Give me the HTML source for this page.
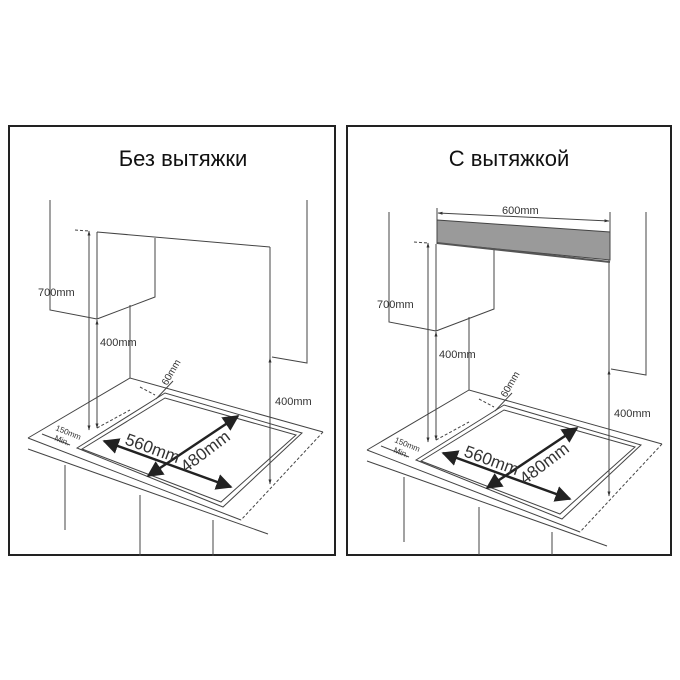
<!DOCTYPE html>
<html><head><meta charset="utf-8"><style>
html,body{margin:0;padding:0;background:#fff}
svg{display:block}
text{font-family:"Liberation Sans",Arial,sans-serif;fill:#333}
</style></head><body>
<svg width="680" height="680" viewBox="0 0 680 680" xmlns="http://www.w3.org/2000/svg">
<defs>
<clipPath id="cl"><rect x="347" y="126" width="324" height="429"/></clipPath>
<marker id="s" viewBox="0 0 10 10" refX="9" refY="5" markerWidth="5" markerHeight="5" orient="auto-start-reverse"><path d="M0,2 L10,5 L0,8z" fill="#333"/></marker>
<marker id="b" viewBox="0 0 10 10" refX="9" refY="5" markerWidth="6.5" markerHeight="6.5" orient="auto-start-reverse"><path d="M0,0 L10,5 L0,10z" fill="#222"/></marker>
<g id="scene" stroke="#444" stroke-width="1" fill="none">
 <polyline points="50,200 50,310 97,319"/>
 <polyline points="307,200 307,363 272,357"/>
 <line x1="130" y1="305" x2="130" y2="378"/>
 <polyline points="97,232 97,319 155,297 155,238"/>
 <line x1="270" y1="247" x2="270" y2="358"/>
 <polyline points="28,438 130,378 323,432"/>
 <line x1="28" y1="438" x2="241" y2="520"/>
 <line x1="28" y1="449" x2="268" y2="534"/>
 <line x1="323" y1="432" x2="241" y2="520" stroke-dasharray="3,2"/>
 <line x1="65" y1="465" x2="65" y2="530"/>
 <line x1="140" y1="495" x2="140" y2="556"/>
 <line x1="213" y1="520" x2="213" y2="556"/>
 <polygon points="77,448 165,393 302,433 223,507"/>
 <polygon points="82,449 165,398 296,435 221,502"/>
 <line x1="75" y1="230" x2="89" y2="231" stroke-dasharray="3,2"/>
 <line x1="89" y1="231" x2="89" y2="430" marker-start="url(#s)" marker-end="url(#s)"/>
 <line x1="97" y1="320" x2="97" y2="428" marker-start="url(#s)" marker-end="url(#s)"/>
 <line x1="270" y1="358" x2="270" y2="484" marker-start="url(#s)" marker-end="url(#s)"/>
 <line x1="97" y1="428" x2="130" y2="410" stroke-dasharray="3,2"/>
 <line x1="140" y1="387" x2="155" y2="395" stroke-dasharray="3,2"/>
 <line x1="156" y1="399" x2="173" y2="381"/>
 <line x1="42" y1="434" x2="70" y2="445"/>
 <line x1="104" y1="441" x2="231" y2="487" stroke="#222" stroke-width="2.5" marker-start="url(#b)" marker-end="url(#b)"/>
 <line x1="148" y1="476" x2="238" y2="416" stroke="#222" stroke-width="2.5" marker-start="url(#b)" marker-end="url(#b)"/>
</g>
<g id="labels">
 <text x="38" y="296" font-size="11">700mm</text>
 <text x="100" y="346" font-size="11">400mm</text>
 <text x="275" y="405" font-size="11">400mm</text>
 <text x="0" y="0" font-size="10" transform="translate(167,386) rotate(-60)">60mm</text>
 <text x="0" y="0" font-size="8" transform="translate(55,430) rotate(22)">150mm</text>
 <text x="0" y="0" font-size="8" transform="translate(54,440) rotate(22)">Min.</text>
 <text x="0" y="0" font-size="17" transform="translate(124,444) rotate(20)">560mm</text>
 <text x="0" y="0" font-size="17" transform="translate(186,473) rotate(-37)">480mm</text>
</g>
</defs>
<rect x="9" y="126" width="326" height="429" fill="none" stroke="#222" stroke-width="2"/>
<rect x="347" y="126" width="324" height="429" fill="none" stroke="#222" stroke-width="2"/>
<text x="183" y="166" font-size="22" text-anchor="middle" style="fill:#111">Без вытяжки</text>
<text x="509" y="166" font-size="22" text-anchor="middle" style="fill:#111">С вытяжкой</text>
<use href="#scene"/>
<line x1="97" y1="232" x2="270" y2="247" stroke="#444"/>
<use href="#labels"/>
<g clip-path="url(#cl)">
<g transform="translate(339,12)">
 <use href="#scene"/>
 <use href="#labels"/>
</g>
</g>
<g stroke="#444" fill="none">
 <polygon points="437,220 610,232 610,260 437,243" fill="#9a9a9a"/>
 <line x1="437" y1="243" x2="610" y2="262" stroke="#555" stroke-width="2"/>
 <line x1="437" y1="208" x2="437" y2="244"/>
 <line x1="610" y1="212" x2="610" y2="260"/>
 <line x1="438" y1="213" x2="609" y2="221" marker-start="url(#s)" marker-end="url(#s)"/>
</g>
<text x="502" y="214" font-size="11">600mm</text>
</svg>
</body></html>
